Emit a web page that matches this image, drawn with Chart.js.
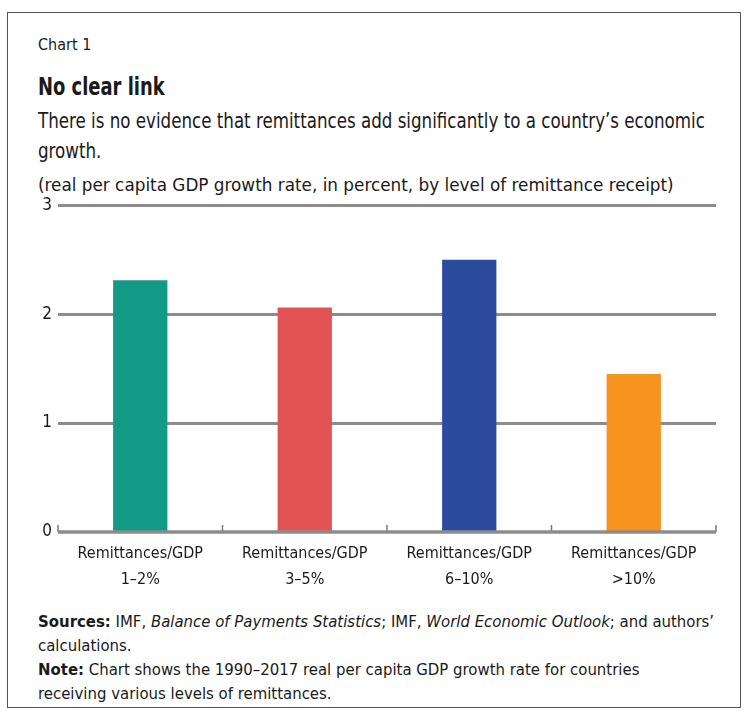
<!DOCTYPE html>
<html>
<head>
<meta charset="utf-8">
<script src="https://cdn.jsdelivr.net/npm/chart.js@4.4.1/dist/chart.umd.min.js"></script>
<style>
  html, body { margin: 0; padding: 0; background: #fff; }
  body { width: 752px; height: 722px; position: relative; overflow: hidden;
         font-family: "DejaVu Sans Condensed", sans-serif; color: #1a1a1a; }
  #frame { position: absolute; left: 7px; top: 12px; width: 734px; height: 696px;
           border: 1.5px solid #555; box-sizing: border-box; }
  .txt { position: absolute; left: 38px; white-space: nowrap; transform-origin: 0 0; }
  #kicker { top: 35px; font-size: 16px; }
  #title { top: 73px; font-size: 24px; font-weight: bold; transform: scaleX(0.83); }
  #sub { top: 106px; font-size: 20.5px; line-height: 30px; transform: scaleX(0.905); }
  #units { top: 174px; font-size: 18px; transform: scaleX(1.04); }
  #foot { top: 610px; font-size: 16.6px; line-height: 24px; }
  #wrap { position: absolute; left: 14px; top: 189px; width: 716px; height: 403px; }
</style>
</head>
<body>
<div id="frame"></div>
<div class="txt" id="kicker">Chart 1</div>
<div class="txt" id="title">No clear link</div>
<div class="txt" id="sub">There is no evidence that remittances add significantly to a country’s economic<br>growth.</div>
<div class="txt" id="units">(real per capita GDP growth rate, in percent, by level of remittance receipt)</div>
<div id="wrap"><canvas id="grafico" width="716" height="403"></canvas></div>
<div class="txt" id="foot"><b>Sources:</b> IMF, <i>Balance of Payments Statistics</i>; IMF, <i>World Economic Outlook</i>; and authors’<br>calculations.<br><b>Note:</b> Chart shows the 1990–2017 real per capita GDP growth rate for countries<br>receiving various levels of remittances.</div>
<script>
// datos del grafico
var categorias = [
    ['Remittances/GDP', '1–2%'],
    ['Remittances/GDP', '3–5%'],
    ['Remittances/GDP', '6–10%'],
    ['Remittances/GDP', '>10%']
];
var crecimiento = [2.31, 2.06, 2.50, 1.45];
var colores = ['#139A87', '#E35354', '#2B4B9E', '#F5951F'];
var ticksY = [0, 1, 2, 3];

var fuente = '"DejaVu Sans Condensed", sans-serif';

// marcas hacia arriba en los limites de cada categoria + linea base
var marcasEje = {
    id: 'marcasEje',
    afterDatasetsDraw: function (chart) {
        var x = chart.scales.x;
        var y = chart.scales.y;
        var ctx = chart.ctx;
        var base = y.getPixelForValue(0);
        ctx.save();
        ctx.strokeStyle = '#777';
        ctx.lineWidth = 1.5;
        ctx.beginPath();
        for (var i = 0; i <= categorias.length; i++) {
            var px = x.left + (x.right - x.left) * i / categorias.length;
            ctx.moveTo(px, base);
            ctx.lineTo(px, base - 7);
        }
        ctx.stroke();
        ctx.strokeStyle = '#8c8c8c';
        ctx.lineWidth = 3.5;
        ctx.beginPath();
        ctx.moveTo(x.left, base);
        ctx.lineTo(x.right, base);
        ctx.stroke();
        ctx.restore();
    }
};

const myChart = new Chart('grafico', {
    type: 'bar',
    data: {
        labels: categorias,
        datasets: [{
            data: crecimiento,
            backgroundColor: colores,
            borderWidth: 0,
            barPercentage: 0.33,
            categoryPercentage: 1
        }]
    },
    options: {
        responsive: false,
        animation: false,
        layout: { padding: { top: 5, right: 14, left: 0, bottom: 0 } },
        plugins: {
            legend: { display: false },
            tooltip: { enabled: false }
        },
        scales: {
            x: {
                border: { display: false },
                grid: { display: false },
                ticks: {
                    color: '#1a1a1a',
                    padding: 0,
                    font: { family: fuente, size: 16, lineHeight: 1.68 },
                    maxRotation: 0
                },
                afterFit: function (scale) { scale.height = 60; }
            },
            y: {
                min: 0,
                max: 3,
                border: { display: false },
                grid: {
                    color: '#8c8c8c',
                    lineWidth: function (c) { return c.tick.value === 0 ? 0 : 3; },
                    drawTicks: false
                },
                afterBuildTicks: function (scale) {
                    scale.ticks = ticksY.map(function (v) { return { value: v }; });
                },
                ticks: {
                    color: '#1a1a1a',
                    padding: 6,
                    font: { family: fuente, size: 17 }
                },
                afterFit: function (scale) { scale.width = 44; }
            }
        }
    },
    plugins: [marcasEje]
});
</script>
</body>
</html>
